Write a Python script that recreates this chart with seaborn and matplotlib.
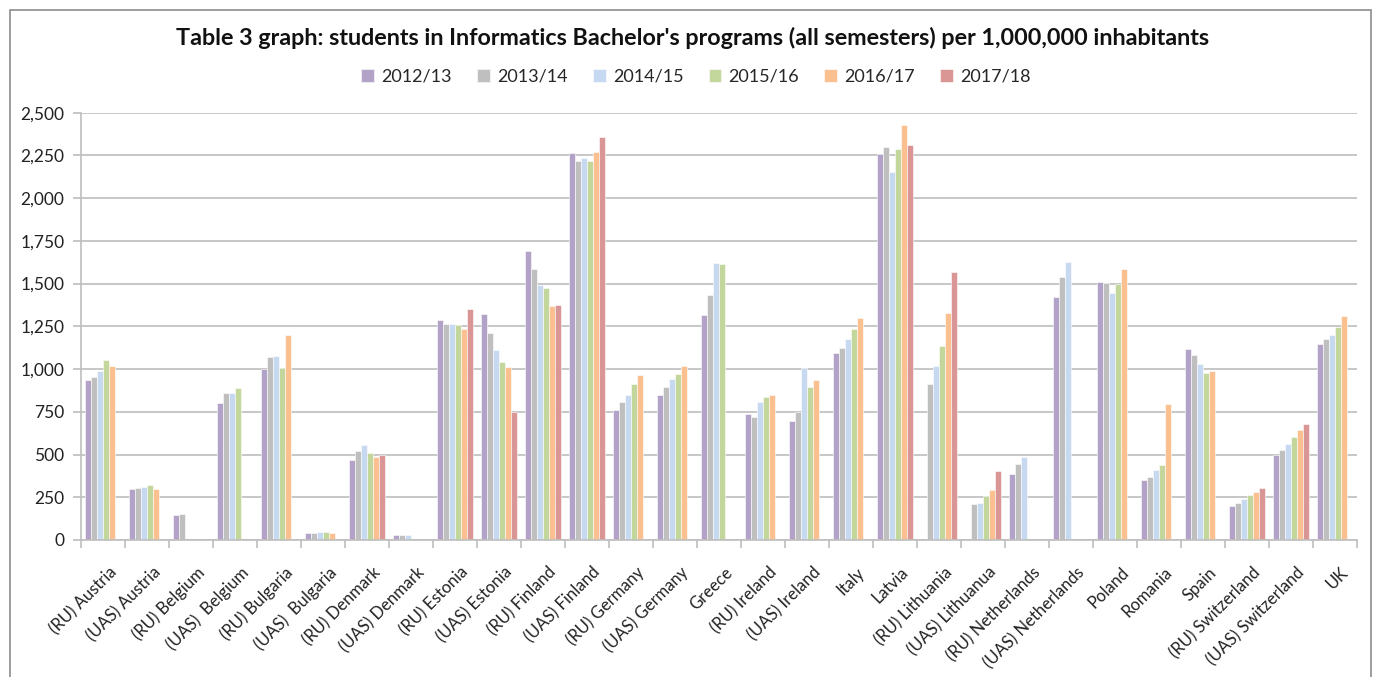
import numpy as np
import pandas as pd
import seaborn as sns
import matplotlib.pyplot as plt
import matplotlib.transforms as mtransforms
from matplotlib.patches import Rectangle
from matplotlib.ticker import FuncFormatter, FixedLocator

# --- Data ---
categories = ["(RU) Austria", "(UAS) Austria", "(RU) Belgium", "(UAS)  Belgium",
              "(RU) Bulgaria", "(UAS)  Bulgaria", "(RU) Denmark", "(UAS) Denmark",
              "(RU) Estonia", "(UAS) Estonia", "(RU) Finland", "(UAS) Finland",
              "(RU) Germany", "(UAS) Germany", "Greece", "(RU) Ireland",
              "(UAS) Ireland", "Italy", "Latvia", "(RU) Lithuania",
              "(UAS) Lithuanua", "(RU) Netherlands", "(UAS) Netherlands", "Poland",
              "Romania", "Spain", "(RU) Switzerland", "(UAS) Switzerland", "UK"]

years = ["2012/13", "2013/14", "2014/15", "2015/16", "2016/17", "2017/18"]
nan = np.nan

y2012 = [936, 300, 146, 800, 998, 41, 466, 29, 1285, 1320, 1691, 2266, 761, 850, 1316, 735,
         696, 1096, 2256, nan, nan, 388, 1422, 1509, 353, 1117, 199, 495, 1145]
y2013 = [955, 304, 154, 858, 1071, 43, 523, 29, 1262, 1211, 1585, 2217, 805, 893, 1435, 720,
         749, 1123, 2297, 913, 211, 445, 1541, 1502, 369, 1080, 215, 527, 1176]
y2014 = [989, 308, nan, 862, 1074, 47, 554, 31, 1266, 1110, 1490, 2233, 848, 940, 1619, 807,
         1004, 1176, 2153, 1018, 218, 486, 1624, 1447, 410, 1030, 242, 562, 1199]
y2015 = [1055, 320, nan, 889, 1008, 47, 507, nan, 1256, 1041, 1474, 2217, 913, 971, 1613, 839,
         897, 1234, 2289, 1135, 259, nan, nan, 1500, 439, 975, 263, 601, 1248]
y2016 = [1016, 300, nan, nan, 1197, 43, 484, nan, 1236, 1014, 1367, 2268, 967, 1018, nan, 848,
         936, 1299, 2428, 1326, 291, nan, nan, 1587, 796, 989, 279, 644, 1312]
y2017 = [nan, nan, nan, nan, nan, nan, 495, nan, 1353, 749, 1377, 2356, nan, nan, nan, nan,
         nan, nan, 2313, 1568, 406, nan, nan, nan, nan, nan, 306, 681, nan]

colors = ["#B3A2C7", "#BFBFBF", "#C6D9F1", "#C3D69B", "#FAC090", "#D99694"]

rows = []
for yr, vals in zip(years, [y2012, y2013, y2014, y2015, y2016, y2017]):
    for cat, v in zip(categories, vals):
        rows.append({"program": cat, "year": yr, "students": v})
df = pd.DataFrame(rows)

# --- Plot ---
sns.set_style("white")
plt.rcParams['font.family'] = ['Lato', 'DejaVu Sans']

fig = plt.figure(figsize=(13.77, 6.77), dpi=100)
ax = fig.add_axes([81 / 1377, 1 - 540 / 677, (1357 - 81) / 1377, (540 - 112.7) / 677])

sns.barplot(data=df.dropna(), x="program", y="students", hue="year",
            order=categories, hue_order=years, palette=colors,
            width=0.84, errorbar=None, edgecolor="white", linewidth=0.4,
            saturation=1, ax=ax)

ax.set_ylim(0, 2500)
ax.set_xlim(-0.5, len(categories) - 0.5)
ax.set_yticks(np.arange(0, 2501, 250))
ax.yaxis.set_major_formatter(FuncFormatter(lambda v, p: f"{int(v):,}"))
ax.grid(axis="y", color="#BEBEBE", linewidth=1.2)
ax.set_axisbelow(True)
ax.set_xlabel("")
ax.set_ylabel("")

for s in ["top", "right"]:
    ax.spines[s].set_visible(False)
for s in ["left", "bottom"]:
    ax.spines[s].set_color("#BEBEBE")
    ax.spines[s].set_linewidth(1.2)

ax.tick_params(axis="y", which="major", length=6, color="#BEBEBE", width=1.2,
               labelsize=12.5, labelcolor="#222222", pad=6, left=True)
ax.tick_params(axis="x", which="major", length=0, labelsize=12, labelcolor="#222222")
ax.xaxis.set_minor_locator(FixedLocator(np.arange(-0.5, len(categories), 1.0)))
ax.tick_params(axis="x", which="minor", length=6, color="#BEBEBE", width=1.2, bottom=True)

# Excel-style rotated labels: end a bit right of the centre and lower
shift = mtransforms.ScaledTranslation(11 / 100, -25 / 100, fig.dpi_scale_trans)
for lab in ax.get_xticklabels():
    lab.set_rotation(45)
    lab.set_ha("right")
    lab.set_va("center")
    lab.set_rotation_mode("anchor")
    lab.set_transform(lab.get_transform() + shift)

# legend on top
handles, labels = ax.get_legend_handles_labels()
ax.legend(handles, labels, loc="center", bbox_to_anchor=(0.5 * (362 + 1030) / 1377, 1 - 77 / 677),
          bbox_transform=fig.transFigure, ncol=6, frameon=False, fontsize=13,
          handlelength=0.7, handleheight=0.7, handletextpad=0.4, columnspacing=1.4)

fig.text(0.5 * (173 + 1213) / 1377, 1 - 38 / 677,
         "Table 3 graph: students in Informatics Bachelor's programs (all semesters) per 1,000,000 inhabitants",
         ha="center", va="center", fontsize=16.8, fontweight="bold", color="#111111")

# outer chart border
fig.patches.append(Rectangle((9.5 / 1377, -0.01), (1371 - 9.5) / 1377, 1 - 9.5 / 677 + 0.01,
                             transform=fig.transFigure, fill=False,
                             edgecolor="#8C8C8C", linewidth=1.2))

fig.savefig("out.png", dpi=100)
